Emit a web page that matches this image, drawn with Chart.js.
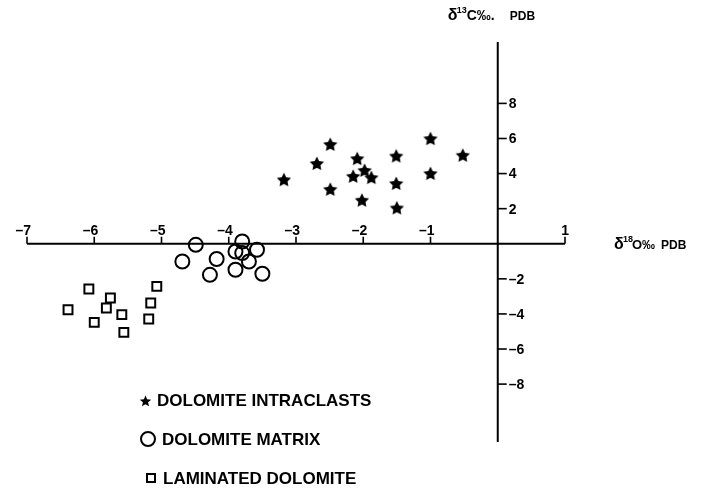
<!DOCTYPE html>
<html>
<head>
<meta charset="utf-8">
<script src="https://cdn.jsdelivr.net/npm/chart.js@4"></script>
<style>
  html, body { margin: 0; padding: 0; background: #fff; }
  #wrap { width: 721px; height: 489px; }
</style>
</head>
<body>
<div id="wrap"><canvas id="isotopeChart" width="721" height="489"></canvas></div>
<script>
// d18O (x) / d13C (y) values
const intraclastX = [-2.49, -2.69, -3.18, -2.09, -1.98, -2.15, -1.88, -2.49, -2.02, -1.51, -1.51, -1.50, -1.00, -1.00, -0.52];
const intraclastY = [5.69, 4.60, 3.68, 4.88, 4.21, 3.87, 3.80, 3.13, 2.51, 5.03, 3.46, 2.07, 6.02, 4.03, 5.07];

const matrixX = [-4.49, -4.69, -4.18, -4.28, -3.80, -3.90, -3.80, -3.58, -3.70, -3.90, -3.50];
const matrixY = [-0.06, -1.01, -0.87, -1.77, 0.13, -0.44, -0.53, -0.34, -1.01, -1.48, -1.71];

const laminatedX = [-6.08, -6.39, -5.76, -5.82, -5.59, -6.00, -5.56, -5.07, -5.16, -5.19];
const laminatedY = [-2.58, -3.76, -3.09, -3.66, -4.04, -4.48, -5.05, -2.43, -3.38, -4.29];

const xTicks = [-7, -6, -5, -4, -3, -2, -1, 1];
const yTicks = [8, 6, 4, 2, -2, -4, -6, -8];
const legendLabels = ['DOLOMITE INTRACLASTS', 'DOLOMITE MATRIX', 'LAMINATED DOLOMITE'];

const FONT = '"Liberation Sans", Arial, sans-serif';

function toPoints(xs, ys) {
    return xs.map((v, i) => ({ x: v, y: ys[i] }));
}

function tickText(v) {
    return v < 0 ? '\u2013' + Math.abs(v) : String(v);
}

// filled five point star used as the intraclast marker
function makeStar(size, inner) {
    const c = document.createElement('canvas');
    c.width = size;
    c.height = size;
    const g = c.getContext('2d');
    const R = size / 2 - 0.5, r = R * inner;
    g.beginPath();
    for (let i = 0; i < 10; i++) {
        const a = -Math.PI / 2 + i * Math.PI / 5;
        const rad = i % 2 ? r : R;
        g.lineTo(size / 2 + rad * Math.cos(a), size / 2 + 1 + rad * Math.sin(a));
    }
    g.closePath();
    g.fillStyle = '#000';
    g.fill();
    return c;
}
const starImg = makeStar(16, 0.5);
const starSmall = makeStar(13, 0.45);

// draws the axes through the origin, tick marks and labels
const crossAxes = {
    id: 'crossAxes',
    beforeDatasetsDraw(chart) {
        const { ctx, scales: { x, y } } = chart;
        const x0 = x.getPixelForValue(0);
        const y0 = y.getPixelForValue(0);
        ctx.save();
        ctx.strokeStyle = '#000';
        ctx.fillStyle = '#000';
        ctx.lineWidth = 2;
        ctx.beginPath();
        ctx.moveTo(x.getPixelForValue(xTicks[0]), y0);
        ctx.lineTo(x.getPixelForValue(xTicks[xTicks.length - 1]), y0);
        ctx.moveTo(x0, y.getPixelForValue(y.max));
        ctx.lineTo(x0, y.getPixelForValue(y.min));
        ctx.stroke();

        ctx.lineWidth = 1.6;
        ctx.font = 'bold 14px ' + FONT;
        ctx.textAlign = 'right';
        ctx.textBaseline = 'alphabetic';
        xTicks.forEach(v => {
            const px = x.getPixelForValue(v);
            ctx.beginPath();
            ctx.moveTo(px, y0);
            ctx.lineTo(px, y0 - 7);
            ctx.stroke();
            ctx.fillText(tickText(v), px + 4, y0 - 9);
        });

        ctx.textAlign = 'left';
        ctx.textBaseline = 'middle';
        yTicks.forEach(v => {
            const py = y.getPixelForValue(v);
            ctx.beginPath();
            ctx.moveTo(x0, py);
            ctx.lineTo(x0 + 9, py);
            ctx.stroke();
            ctx.fillText(tickText(v), x0 + 11, py + 1);
        });
        ctx.restore();
    },
    afterDraw(chart) {
        const { ctx, scales: { x, y } } = chart;
        const x0 = x.getPixelForValue(0);
        const y0 = y.getPixelForValue(0);
        ctx.save();
        ctx.fillStyle = '#000';
        ctx.strokeStyle = '#000';
        ctx.textAlign = 'left';
        ctx.textBaseline = 'alphabetic';

        // x axis title
        let tx = x.getPixelForValue(1) + 49;
        let by = y0 + 5;
        ctx.font = 'bold 16px ' + FONT;
        ctx.fillText('\u03b4', tx, by);
        ctx.font = 'bold 9px ' + FONT;
        ctx.fillText('18', tx + 9, by - 7);
        ctx.font = 'bold 13px ' + FONT;
        ctx.fillText('O\u2030', tx + 18, by);
        ctx.font = 'bold 12px ' + FONT;
        ctx.fillText('PDB', tx + 47, by);

        // y axis title
        tx = x0 - 50;
        by = 20;
        ctx.font = 'bold 16px ' + FONT;
        ctx.fillText('\u03b4', tx, by);
        ctx.font = 'bold 9px ' + FONT;
        ctx.fillText('13', tx + 9, by - 7);
        ctx.font = 'bold 14px ' + FONT;
        ctx.fillText('C\u2030.', tx + 19, by);
        ctx.font = 'bold 12px ' + FONT;
        ctx.fillText('PDB', tx + 62, by);

        // legend
        ctx.font = 'bold 17px ' + FONT;
        ctx.textBaseline = 'middle';
        ctx.drawImage(starSmall, 139, 394, 13, 13);
        ctx.fillText(legendLabels[0], 157, 401);

        ctx.lineWidth = 2;
        ctx.beginPath();
        ctx.arc(148, 439, 7, 0, Math.PI * 2);
        ctx.stroke();
        ctx.fillText(legendLabels[1], 162, 440);

        ctx.strokeRect(147, 474, 8, 8);
        ctx.fillText(legendLabels[2], 163, 479);
        ctx.restore();
    }
};

const ctx = document.getElementById('isotopeChart').getContext('2d');

let isotopeChart = new Chart(ctx, {
    type: 'scatter',
    data: {
        datasets: [{
            label: legendLabels[0],
            data: toPoints(intraclastX, intraclastY),
            pointStyle: starImg,
            pointRadius: 8,
            clip: false
        }, {
            label: legendLabels[1],
            data: toPoints(matrixX, matrixY),
            pointStyle: 'circle',
            pointRadius: 7,
            borderColor: '#000',
            borderWidth: 2,
            backgroundColor: 'rgba(0,0,0,0)',
            clip: false
        }, {
            label: legendLabels[2],
            data: toPoints(laminatedX, laminatedY),
            pointStyle: 'rect',
            pointRadius: 6.3,
            borderColor: '#000',
            borderWidth: 2,
            backgroundColor: 'rgba(0,0,0,0)',
            clip: false
        }]
    },
    options: {
        responsive: false,
        animation: false,
        layout: { padding: { left: 27, right: 156, top: 42, bottom: 47 } },
        scales: {
            x: { type: 'linear', display: false, min: -7, max: 1 },
            y: { type: 'linear', display: false, min: -11.3, max: 11.5 }
        },
        plugins: {
            legend: { display: false },
            tooltip: { enabled: false }
        }
    },
    plugins: [crossAxes]
});
</script>
</body>
</html>
